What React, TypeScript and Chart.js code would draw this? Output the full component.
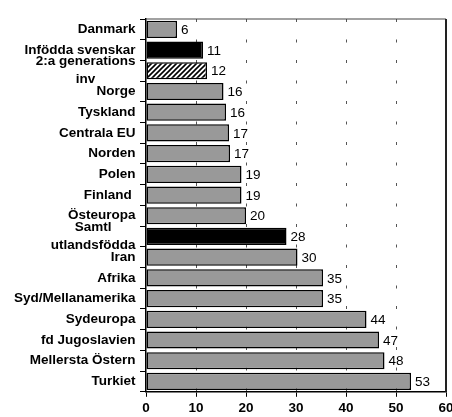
import React, { useEffect, useRef } from "react";
import { Chart, registerables } from "chart.js";

Chart.register(...registerables);

const categories: (string | string[])[] = [
  "Danmark",
  "Infödda svenskar",
  ["2:a generations", "inv"],
  "Norge",
  "Tyskland",
  "Centrala EU",
  "Norden",
  "Polen",
  "Finland ",
  "Östeuropa",
  ["Samtl", "utlandsfödda"],
  "Iran",
  "Afrika",
  "Syd/Mellanamerika",
  "Sydeuropa",
  "fd Jugoslavien",
  "Mellersta Östern",
  "Turkiet",
];

const values: number[] = [
  6.2, 11.4, 12.2, 15.5, 16.0, 16.6, 16.8, 19.1, 19.1, 20.0, 28.1, 30.3, 35.4,
  35.4, 44.1, 46.6, 47.7, 53.0,
];

const valueLabels: string[] = [
  "6", "11", "12", "16", "16", "17", "17", "19", "19", "20", "28", "30", "35",
  "35", "44", "47", "48", "53",
];

// bar styles: 0 = gray, 1 = black, 2 = hatched
const barKinds: number[] = [0, 1, 2, 0, 0, 0, 0, 0, 0, 0, 1, 0, 0, 0, 0, 0, 0, 0];

const xTicks: number[] = [0, 10, 20, 30, 40, 50, 60];

const FONT = '"Liberation Sans", Arial, sans-serif';
const FS = 13.5;

function makeHatch(): CanvasPattern | string {
  const c = document.createElement("canvas");
  c.width = 5;
  c.height = 5;
  const g = c.getContext("2d");
  if (!g) return "#fff";
  g.fillStyle = "#fff";
  g.fillRect(0, 0, 5, 5);
  g.strokeStyle = "#000";
  g.lineWidth = 1.6;
  g.beginPath();
  g.moveTo(-1, 6);
  g.lineTo(6, -1);
  g.moveTo(-3, 3);
  g.lineTo(3, -3);
  g.moveTo(2, 8);
  g.lineTo(8, 2);
  g.stroke();
  const p = g.createPattern(c, "repeat");
  return p || "#fff";
}

const gridPlugin = {
  id: "dashedGrid",
  beforeDatasetsDraw(chart: any) {
    const { ctx, chartArea } = chart;
    const x = chart.scales.x;
    ctx.save();
    ctx.strokeStyle = "#555";
    ctx.lineWidth = 1;
    ctx.setLineDash([3, 17.5]);
    xTicks.slice(1, -1).forEach((t) => {
      const px = Math.round(x.getPixelForValue(t)) + 0.5;
      ctx.beginPath();
      ctx.moveTo(px, chartArea.top);
      ctx.lineTo(px, chartArea.bottom);
      ctx.stroke();
    });
    ctx.setLineDash([]);
    ctx.strokeStyle = "#444";
    ctx.lineWidth = 1.2;
    ctx.beginPath();
    ctx.moveTo(chartArea.left, chartArea.top);
    ctx.lineTo(chartArea.right, chartArea.top);
    ctx.stroke();
    ctx.strokeStyle = "#222";
    ctx.lineWidth = 2;
    ctx.beginPath();
    ctx.moveTo(chartArea.right, chartArea.top);
    ctx.lineTo(chartArea.right, chartArea.bottom);
    ctx.stroke();
    ctx.restore();
  },
};

const labelPlugin = {
  id: "labels",
  afterDatasetsDraw(chart: any) {
    const { ctx } = chart;
    const meta = chart.getDatasetMeta(0);
    ctx.save();
    ctx.font = `${FS}px ${FONT}`;
    ctx.fillStyle = "#000";
    ctx.textBaseline = "middle";
    ctx.textAlign = "left";
    meta.data.forEach((bar: any, i: number) => {
      ctx.fillText(valueLabels[i], bar.x + 4, bar.y + 1);
    });
    const y = chart.scales.y;
    ctx.font = `bold ${FS}px ${FONT}`;
    ctx.textAlign = "center";
    categories.forEach((lab, i) => {
      const lines = Array.isArray(lab) ? lab : [lab];
      const cy = y.getPixelForValue(i);
      const w = Math.max(...lines.map((l) => ctx.measureText(l).width));
      const cx = y.right - 10.5 - w / 2;
      const lh = 18;
      lines.forEach((l, j) => {
        ctx.fillText(l, cx, cy + (j - (lines.length - 1) / 2) * lh);
      });
    });
    ctx.restore();
  },
};

export default function App() {
  const ref = useRef<HTMLCanvasElement>(null);
  useEffect(() => {
    document.body.style.margin = "0";
    if (!ref.current) return;
    const hatch = makeHatch();
    const colors = barKinds.map((k) => (k === 1 ? "#000" : k === 2 ? hatch : "#999999"));
    const chart = new Chart(ref.current, {
      type: "bar",
      data: {
        labels: categories.map((c) => (Array.isArray(c) ? c.join(" ") : c)),
        datasets: [
          {
            data: values,
            backgroundColor: colors as any,
            borderColor: "#000",
            borderWidth: 1.5,
            borderSkipped: false,
            categoryPercentage: 1,
            barPercentage: 0.83,
          },
        ],
      },
      options: {
        indexAxis: "y",
        animation: false,
        responsive: true,
        maintainAspectRatio: false,
        layout: { padding: { top: 19, left: 0, right: 0, bottom: -2 } },
        plugins: { legend: { display: false }, tooltip: { enabled: false }, title: { display: false } },
        scales: {
          x: {
            min: 0,
            max: 60,
            afterBuildTicks: (scale: any) => {
              scale.ticks = xTicks.map((v) => ({ value: v }));
            },
            afterFit: (scale: any) => {
              scale.paddingRight = 6;
              scale.paddingLeft = 0;
            },
            ticks: {
              font: { family: FONT, size: FS, weight: "bold" },
              color: "#000",
              padding: 3,
              maxRotation: 0,
            },
            grid: {
              drawOnChartArea: false,
              drawTicks: true,
              tickLength: 5,
              color: "#000",
            },
            border: { color: "#000", width: 1.5 },
          },
          y: {
            offset: true,
            afterFit: (scale: any) => {
              scale.width = 146;
            },
            ticks: { display: false },
            grid: {
              offset: true,
              drawOnChartArea: false,
              drawTicks: true,
              tickLength: 6,
              color: "#000",
            },
            border: { color: "#000", width: 1.5 },
          },
        },
      },
      plugins: [gridPlugin, labelPlugin],
    });
    return () => chart.destroy();
  }, []);
  return (
    <div style={{ width: 452, height: 417, position: "relative" }}>
      <canvas ref={ref} />
    </div>
  );
}
